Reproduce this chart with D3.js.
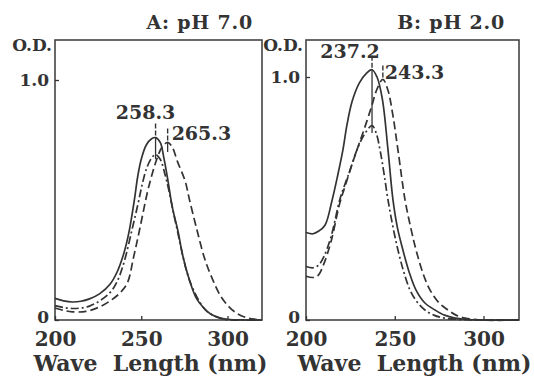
<!DOCTYPE html>
<html>
<head>
<meta charset="utf-8">
<script src="https://cdn.jsdelivr.net/npm/d3@7"></script>
<style>
  body { margin: 0; background: #fff; }
  text { font-family: "DejaVu Serif", serif; font-weight: bold; fill: #333; }
</style>
</head>
<body>
<div id="chart"></div>
<script>
// panel A: pH 7.0
const nmA_solid   = [200, 205, 210, 215, 220, 226, 232, 236, 240, 243, 246, 248, 250, 253, 256, 258.3, 261, 263, 265.5, 268, 271.3, 274, 278, 282, 286, 290, 295, 300, 310, 320];
const odA_solid   = [0.09, 0.08, 0.075, 0.078, 0.088, 0.11, 0.15, 0.2, 0.28, 0.37, 0.5, 0.6, 0.67, 0.73, 0.755, 0.76, 0.74, 0.68, 0.58, 0.47, 0.37, 0.27, 0.165, 0.09, 0.052, 0.026, 0.01, 0.003, 0, 0];
const nmA_dashdot = [200, 205, 210, 215, 220, 226, 232, 236, 240, 244.6, 248, 250.4, 253, 256, 258.3, 261, 264, 266, 271, 278, 286, 290, 298, 310, 320];
const odA_dashdot = [0.06, 0.052, 0.048, 0.05, 0.058, 0.08, 0.115, 0.16, 0.24, 0.375, 0.48, 0.56, 0.63, 0.675, 0.69, 0.67, 0.6, 0.54, 0.37, 0.165, 0.052, 0.026, 0.003, 0, 0];
const nmA_dashed  = [200, 205, 210, 218, 226, 233, 238, 242, 245.5, 249, 253.5, 256, 259, 262, 265.3, 268, 271, 275.4, 278, 282.3, 287, 291.6, 296, 301, 306, 311, 316, 320];
const odA_dashed  = [0.05, 0.04, 0.034, 0.036, 0.055, 0.085, 0.115, 0.155, 0.26, 0.375, 0.53, 0.6, 0.67, 0.72, 0.74, 0.72, 0.66, 0.58, 0.5, 0.375, 0.25, 0.165, 0.1, 0.054, 0.025, 0.01, 0.003, 0];

// panel B: pH 2.0
const nmB_solid   = [200, 204, 207, 210.7, 214.6, 218, 220.8, 223, 226, 230, 234, 237.2, 240, 243, 246.2, 249, 251.5, 254.6, 258, 262, 267, 272.7, 278, 284, 292, 300, 320];
const odB_solid   = [0.36, 0.355, 0.365, 0.39, 0.49, 0.6, 0.7, 0.8, 0.9, 0.975, 1.015, 1.03, 1.0, 0.91, 0.7, 0.494, 0.38, 0.288, 0.2, 0.123, 0.07, 0.041, 0.02, 0.008, 0.002, 0, 0];
const nmB_dashdot = [200, 204, 207, 210, 214, 219, 222, 225, 228.7, 233, 237.2, 239.5, 241.7, 244, 246.2, 248.8, 251.8, 255, 258.6, 262.5, 267, 272, 278, 290, 300, 320];
const odB_dashdot = [0.22, 0.215, 0.225, 0.26, 0.34, 0.494, 0.56, 0.62, 0.7, 0.765, 0.8, 0.77, 0.7, 0.6, 0.494, 0.39, 0.288, 0.2, 0.123, 0.075, 0.041, 0.02, 0.008, 0.001, 0, 0];
const nmB_dashed  = [200, 204, 207, 210, 214, 219, 222, 225, 228.7, 233, 237, 240, 243.3, 246, 249, 251.8, 255.8, 259, 262, 266, 269.9, 275, 280, 284.5, 289.6, 298, 320];
const odB_dashed  = [0.18, 0.175, 0.185, 0.23, 0.32, 0.48, 0.55, 0.62, 0.7, 0.79, 0.88, 0.95, 0.99, 0.95, 0.84, 0.7, 0.494, 0.38, 0.288, 0.19, 0.123, 0.07, 0.041, 0.02, 0.008, 0, 0];

// peak annotations
const peakA_nm = [258.3, 265.3];
const peakA_od = [0.76, 0.74];
const dropA_od = [0.67, 0.7];
const peakB_nm = [237.2, 243.3];
const peakB_od = [1.03, 0.99];
const dropB_od = [0.77, 0.99];

const xTicks = [200, 250, 300];
const yTicks = [0, 1.0];
const titles = ["A: pH 7.0", "B: pH 2.0"];
const xTitle = "Wave\u00a0\u00a0Length (nm)";

const svg = d3.select("#chart").append("svg")
    .attr("width", 534)
    .attr("height", 378);

const ink = "#333";

function drawPanel(opt) {
    const x = d3.scaleLinear().domain([200, 320]).range([opt.left, opt.right]);
    const y = d3.scaleLinear().domain([0, 1]).range([320, opt.top1]);

    // frame
    svg.append("rect")
        .attr("x", opt.left).attr("y", 40)
        .attr("width", opt.right - opt.left).attr("height", 280)
        .attr("fill", "none").attr("stroke", "#444").attr("stroke-width", 1.6);

    const gx = svg.append("g")
        .attr("transform", "translate(0,320)")
        .call(d3.axisBottom(x).tickValues(xTicks).tickSizeInner(-4).tickSizeOuter(0).tickPadding(12));
    gx.select(".domain").remove();
    gx.selectAll("line").attr("stroke", ink).attr("stroke-width", 1.3);
    gx.selectAll("text").attr("font-size", 20).attr("fill", ink)
        .style("font-family", "DejaVu Serif").style("font-weight", "bold");

    const gy = svg.append("g")
        .attr("transform", "translate(" + opt.left + ",0)")
        .call(d3.axisLeft(y).tickValues(yTicks).tickFormat(d => d === 0 ? "0" : "1.0")
            .tickSizeInner(-4).tickSizeOuter(0).tickPadding(6));
    gy.select(".domain").remove();
    gy.selectAll("line").attr("stroke", ink).attr("stroke-width", 1.3);
    gy.selectAll("text").attr("font-size", 17).attr("fill", ink)
        .style("font-family", "DejaVu Serif").style("font-weight", "bold")
        .attr("y", d => d === 0 ? -3 : 0);

    svg.append("text")
        .attr("x", opt.left - 3).attr("y", 51)
        .attr("text-anchor", "end").attr("font-size", 17)
        .text("O.D.");

    svg.append("text")
        .attr("x", opt.titleX).attr("y", 29)
        .attr("text-anchor", "end").attr("font-size", 19)
        .attr("letter-spacing", 0.8)
        .text(opt.title);

    svg.append("text")
        .attr("x", (opt.left + opt.right) / 2 + opt.xTitleShift).attr("y", 371)
        .attr("text-anchor", "middle").attr("font-size", 22)
        .text(xTitle);

    const line = d3.line()
        .x(d => x(d[0]))
        .y(d => y(d[1]))
        .curve(d3.curveCatmullRom.alpha(0.5));

    opt.series.forEach(s => {
        svg.append("path")
            .datum(d3.zip(s.nm, s.od))
            .attr("d", line)
            .attr("fill", "none")
            .attr("stroke", ink)
            .attr("stroke-width", 1.7)
            .attr("stroke-dasharray", s.dash);
    });

    // peak markers
    opt.peaks.nm.forEach((p, i) => {
        const px = x(p), py = y(opt.peaks.od[i]);
        svg.append("line")
            .attr("x1", px).attr("x2", px)
            .attr("y1", py - 14).attr("y2", py - 2)
            .attr("stroke", ink).attr("stroke-width", 1.4)
            .attr("stroke-dasharray", "5,2");
        svg.append("line")
            .attr("x1", px).attr("x2", px)
            .attr("y1", py).attr("y2", y(opt.peaks.drop[i]))
            .attr("stroke", ink).attr("stroke-width", 1.3);
        svg.append("text")
            .attr("x", px + opt.labelDx[i]).attr("y", py + opt.labelDy[i])
            .attr("text-anchor", opt.labelAnchor[i])
            .attr("font-size", 19)
            .text(p.toFixed(1));
    });
}

drawPanel({
    left: 55, right: 262, top1: 80, titleX: 253, title: titles[0], xTitleShift: -8,
    series: [
        { nm: nmA_solid, od: odA_solid, dash: null },
        { nm: nmA_dashdot, od: odA_dashdot, dash: "8,3,2,3" },
        { nm: nmA_dashed, od: odA_dashed, dash: "8,4" }
    ],
    peaks: { nm: peakA_nm, od: peakA_od, drop: dropA_od },
    labelDx: [-10, 4], labelDy: [-19, -2], labelAnchor: ["middle", "start"]
});

drawPanel({
    left: 306, right: 519, top1: 77, titleX: 505, title: titles[1], xTitleShift: 2,
    series: [
        { nm: nmB_solid, od: odB_solid, dash: null },
        { nm: nmB_dashdot, od: odB_dashdot, dash: "8,3,2,3" },
        { nm: nmB_dashed, od: odB_dashed, dash: "8,4" }
    ],
    peaks: { nm: peakB_nm, od: peakB_od, drop: dropB_od },
    labelDx: [-22, 2], labelDy: [-12, 0], labelAnchor: ["middle", "start"]
});
</script>
</body>
</html>
